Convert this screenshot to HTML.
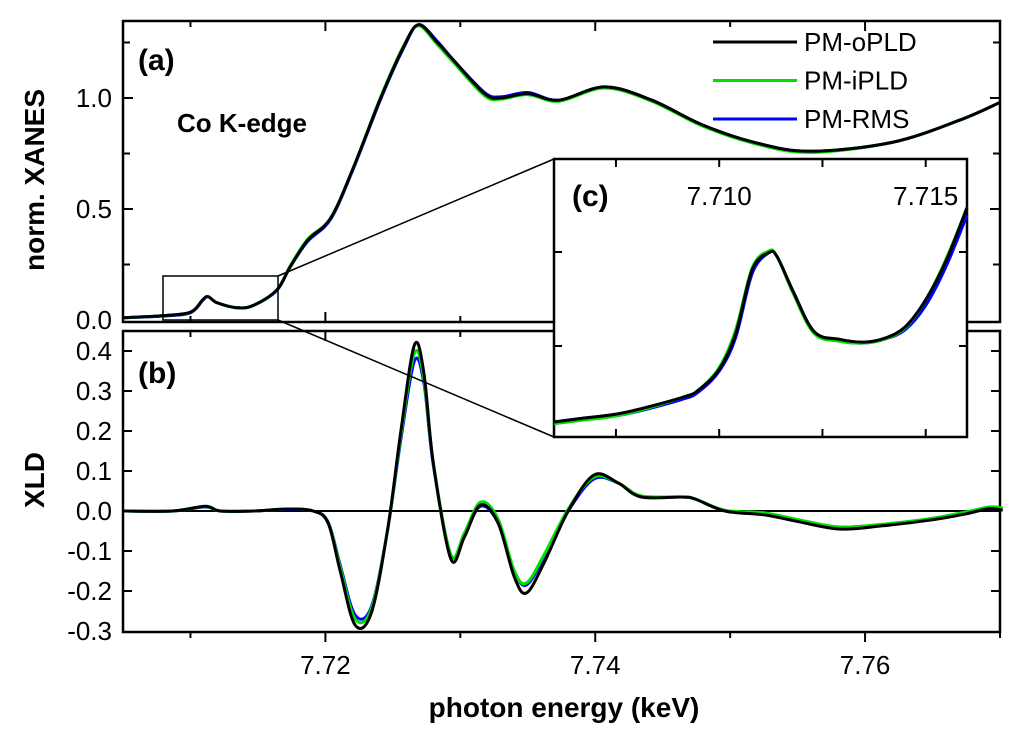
<!DOCTYPE html>
<html><head><meta charset="utf-8"><style>
body{margin:0;background:#fff}
svg{display:block;font-family:"Liberation Sans",Arial,sans-serif}
</style></head><body>
<svg id="c" width="1024" height="736" viewBox="0 0 1024 736" xmlns="http://www.w3.org/2000/svg"></svg>
<script>
// ---------- data ----------
const topE=[7.705,7.708,7.710,7.7109,7.7113,7.7120,7.7135,7.7147,7.7164,7.7174,7.7187,7.7204,7.7221,7.7241,7.7258,7.7269,7.7283,7.7295,7.7318,7.7330,7.7350,7.7373,7.7407,7.7442,7.7479,7.7518,7.7559,7.7620,7.7670,7.7700];
const topBlack=[0.01,0.02,0.035,0.09,0.105,0.077,0.055,0.067,0.135,0.24,0.36,0.46,0.69,1.00,1.23,1.33,1.25,1.17,1.02,1.00,1.02,0.99,1.05,0.99,0.88,0.80,0.76,0.80,0.90,0.98];
const topGreen=[0.01,0.02,0.035,0.09,0.106,0.077,0.055,0.067,0.135,0.245,0.365,0.46,0.69,1.005,1.235,1.325,1.24,1.16,1.01,0.995,1.015,0.985,1.045,0.985,0.875,0.795,0.755,0.80,0.90,0.98];
const topBlue=[0.01,0.018,0.033,0.088,0.105,0.077,0.055,0.066,0.133,0.24,0.355,0.455,0.685,0.995,1.225,1.33,1.255,1.17,1.025,1.005,1.025,0.99,1.05,0.99,0.88,0.80,0.76,0.80,0.90,0.98];
const xldE=[7.705,7.7087,7.7111,7.7122,7.7147,7.7172,7.7191,7.7202,7.7211,7.7222,7.7234,7.7246,7.7256,7.7266,7.7273,7.7280,7.7293,7.7303,7.7315,7.7328,7.7340,7.7349,7.7362,7.7380,7.7399,7.7417,7.7434,7.7464,7.7474,7.7496,7.7526,7.7551,7.7581,7.7613,7.7650,7.7675,7.7692,7.7702];
const xldBlack=[0,0,0.012,0,0,0.005,0,-0.03,-0.15,-0.285,-0.255,-0.05,0.2,0.415,0.345,0.12,-0.12,-0.065,0.015,-0.03,-0.165,-0.205,-0.13,0,0.09,0.07,0.035,0.035,0.03,0,-0.01,-0.027,-0.045,-0.037,-0.022,-0.007,0.006,0.002];
const xldGreen=[0,0,0.011,0,0,0.005,0,-0.03,-0.14,-0.27,-0.245,-0.05,0.19,0.395,0.33,0.12,-0.11,-0.055,0.022,-0.02,-0.15,-0.18,-0.11,0.005,0.085,0.07,0.038,0.035,0.03,0.002,-0.005,-0.022,-0.04,-0.033,-0.018,-0.002,0.01,0.008];
const xldBlue=[0,0,0.01,0,0,0.004,0,-0.028,-0.135,-0.26,-0.24,-0.05,0.18,0.375,0.32,0.115,-0.11,-0.06,0.012,-0.03,-0.15,-0.185,-0.115,0,0.08,0.07,0.036,0.035,0.03,0.001,-0.008,-0.025,-0.04,-0.034,-0.02,-0.005,0.006,0.004];
const insE=[7.7060,7.7067,7.7077,7.7091,7.7095,7.7100,7.7104,7.7108,7.7112,7.7114,7.7118,7.7123,7.7129,7.7135,7.7140,7.7145,7.7150,7.7155,7.7160];
const insBlack=[0.008,0.010,0.013,0.021,0.025,0.036,0.055,0.089,0.098,0.096,0.077,0.056,0.052,0.0505,0.0525,0.0585,0.073,0.094,0.122];
const insGreen=[0.007,0.009,0.012,0.021,0.025,0.037,0.057,0.090,0.099,0.096,0.076,0.055,0.051,0.050,0.052,0.058,0.073,0.095,0.122];
const insBlue=[0.008,0.010,0.012,0.020,0.024,0.035,0.053,0.087,0.098,0.096,0.077,0.056,0.051,0.050,0.052,0.057,0.070,0.091,0.118];
const xTicks=[7.72,7.74,7.76];
const topTicks=[0.0,0.5,1.0];
const xldTicks=[-0.3,-0.2,-0.1,0.0,0.1,0.2,0.3,0.4];
const insTicks=[7.710,7.715];
const seriesNames=["PM-oPLD","PM-iPLD","PM-RMS"];
const seriesColors=["#000000","#00e000","#0000ff"];

// ---------- axes ----------
const L=123,R=1000;
const X=e=>L+(e-7.705)*(R-L)/(7.770-7.705);
const TT=21,TB=322, YT=v=>320-222*v;
const BT=331,BB=632, YB=v=>511-400*v;
const IL=554,IR=967,IT=159,IB=437;
const XI=e=>IL+(e-7.706)*(IR-IL)/(7.716-7.706);
const YI=v=>IB-1880*v;

const svg=document.getElementById('c');
const NS='http://www.w3.org/2000/svg';
function mk(tag,attrs,parent){const el=document.createElementNS(NS,tag);for(const k in attrs)el.setAttribute(k,attrs[k]);(parent||svg).appendChild(el);return el;}
function smooth(xs,ys){let d='M'+xs[0].toFixed(1)+','+ys[0].toFixed(1);
 for(let i=0;i<xs.length-1;i++){const x0=xs[Math.max(i-1,0)],y0=ys[Math.max(i-1,0)],x1=xs[i],y1=ys[i],x2=xs[i+1],y2=ys[i+1],x3=xs[Math.min(i+2,xs.length-1)],y3=ys[Math.min(i+2,xs.length-1)];
 d+=' C'+(x1+(x2-x0)/6).toFixed(1)+','+(y1+(y2-y0)/6).toFixed(1)+' '+(x2-(x3-x1)/6).toFixed(1)+','+(y2-(y3-y1)/6).toFixed(1)+' '+x2.toFixed(1)+','+y2.toFixed(1);}
 return d;}
function txt(s,x,y,o){const t=mk('text',Object.assign({x:x,y:y,'font-size':24,fill:'#000'},o||{}));t.textContent=s;return t;}

// frames
let f=mk('rect',{x:L,y:TT,width:R-L,height:TB-TT,fill:'none',stroke:'#000','stroke-width':2.5});

f=mk('rect',{x:L,y:BT,width:R-L,height:BB-BT,fill:'none',stroke:'#000','stroke-width':2.5});


// x ticks
for(let e=7.71;e<7.7701;e+=0.01){const x=X(e);const maj=Math.abs(((e-7.72)/0.02)-Math.round((e-7.72)/0.02))<0.01;const len=maj?10:6;
 [[TB,-1],[TT,1],[BB,1],[BT,1]].forEach(([y,s])=>{const t=mk('line',{x1:x,x2:x,y1:y,y2:y+s*len,stroke:'#000','stroke-width':2});});}
xTicks.forEach(v=>{const t=txt(v.toFixed(2),X(v),674,{'text-anchor':'middle','font-size':26});});
// top y ticks
for(let v=0.25;v<1.3;v+=0.25){const y=YT(v);[[L,1],[R,-1]].forEach(([x,s])=>{const t=mk('line',{x1:x,x2:x+s*(Math.abs(v%0.5)<0.01?10:7),y1:y,y2:y,stroke:'#000','stroke-width':2});});}
topTicks.forEach(v=>{const t=txt(v.toFixed(1),112,YT(v)+9,{'text-anchor':'end','font-size':26});});
// bottom y ticks
xldTicks.forEach(v=>{const y=YB(v);if(v>-0.3)[[L,1],[R,-1]].forEach(([x,s])=>{const t=mk('line',{x1:x,x2:x+s*9,y1:y,y2:y,stroke:'#000','stroke-width':2});});
 const t=txt(v.toFixed(1),112,y+9,{'text-anchor':'end','font-size':26});});
// zero line
f=mk('line',{x1:L,x2:R,y1:YB(0),y2:YB(0),stroke:'#000','stroke-width':2});

// axis titles
let t=txt('norm. XANES',0,0,{'font-size':28,'font-weight':'bold','text-anchor':'middle',transform:'translate(44,180) rotate(-90)'});
t=txt('XLD',0,0,{'font-size':28,'font-weight':'bold','text-anchor':'middle',transform:'translate(44,480) rotate(-90)'});
t=txt('photon energy (keV)',564,717,{'font-size':28,'font-weight':'bold','text-anchor':'middle'});
t=txt('(a)',138,70,{'font-size':30,'font-weight':'bold'});
t=txt('(b)',138,383,{'font-size':30,'font-weight':'bold'});
t=txt('Co K-edge',177,132,{'font-size':26,'font-weight':'bold'});

// series
const tops=[topBlack,topGreen,topBlue], xlds=[xldBlack,xldGreen,xldBlue], ins=[insBlack,insGreen,insBlue];
[2,1,0].forEach(i=>{
 let p=mk('path',{d:smooth(topE.map(X),tops[i].map(YT)),fill:'none',stroke:seriesColors[i],'stroke-width':3});
 
 p=mk('path',{d:smooth(xldE.map(X),xlds[i].map(YB)),fill:'none',stroke:seriesColors[i],'stroke-width':3});
 
});

// zoom box and connectors
f=mk('rect',{x:163,y:276,width:115,height:44,fill:'none',stroke:'#000','stroke-width':1.5});
f=mk('line',{x1:278,y1:276,x2:IL,y2:IT,stroke:'#000','stroke-width':1.5});
f=mk('line',{x1:278,y1:320,x2:IL,y2:IB,stroke:'#000','stroke-width':1.5});

// inset
f=mk('rect',{x:IL,y:IT,width:IR-IL,height:IB-IT,fill:'#fff',stroke:'#000','stroke-width':2.5});
for(let e=7.7075;e<7.716;e+=0.0025){const x=XI(e);[[IB,-1],[IT,1]].forEach(([y,s])=>{const k=mk('line',{x1:x,x2:x,y1:y,y2:y+s*8,stroke:'#000','stroke-width':2});});}
[0.05,0.1].forEach(v=>{const y=YI(v)+3;[[IL,1],[IR,-1]].forEach(([x,s])=>{const k=mk('line',{x1:x,x2:x+s*8,y1:y,y2:y,stroke:'#000','stroke-width':2});});});
insTicks.forEach(v=>{const k=txt(v.toFixed(3),XI(v),205,{'text-anchor':'middle','font-size':26});});
t=txt('(c)',572,206,{'font-size':30,'font-weight':'bold'});
[2,1,0].forEach(i=>{const p=mk('path',{d:smooth(insE.map(XI),ins[i].map(YI)),fill:'none',stroke:seriesColors[i],'stroke-width':3});
 });

// legend
seriesNames.forEach((n,i)=>{const y=42+i*38.5;
 const g=mk('g',{});
 
 
 mk('line',{x1:713,x2:797,y1:y,y2:y,stroke:seriesColors[i],'stroke-width':3},g);
 const tt=mk('text',{x:804,y:y+9,'font-size':26,fill:'#000'},g);tt.textContent=n;});
</script>
</body></html>
